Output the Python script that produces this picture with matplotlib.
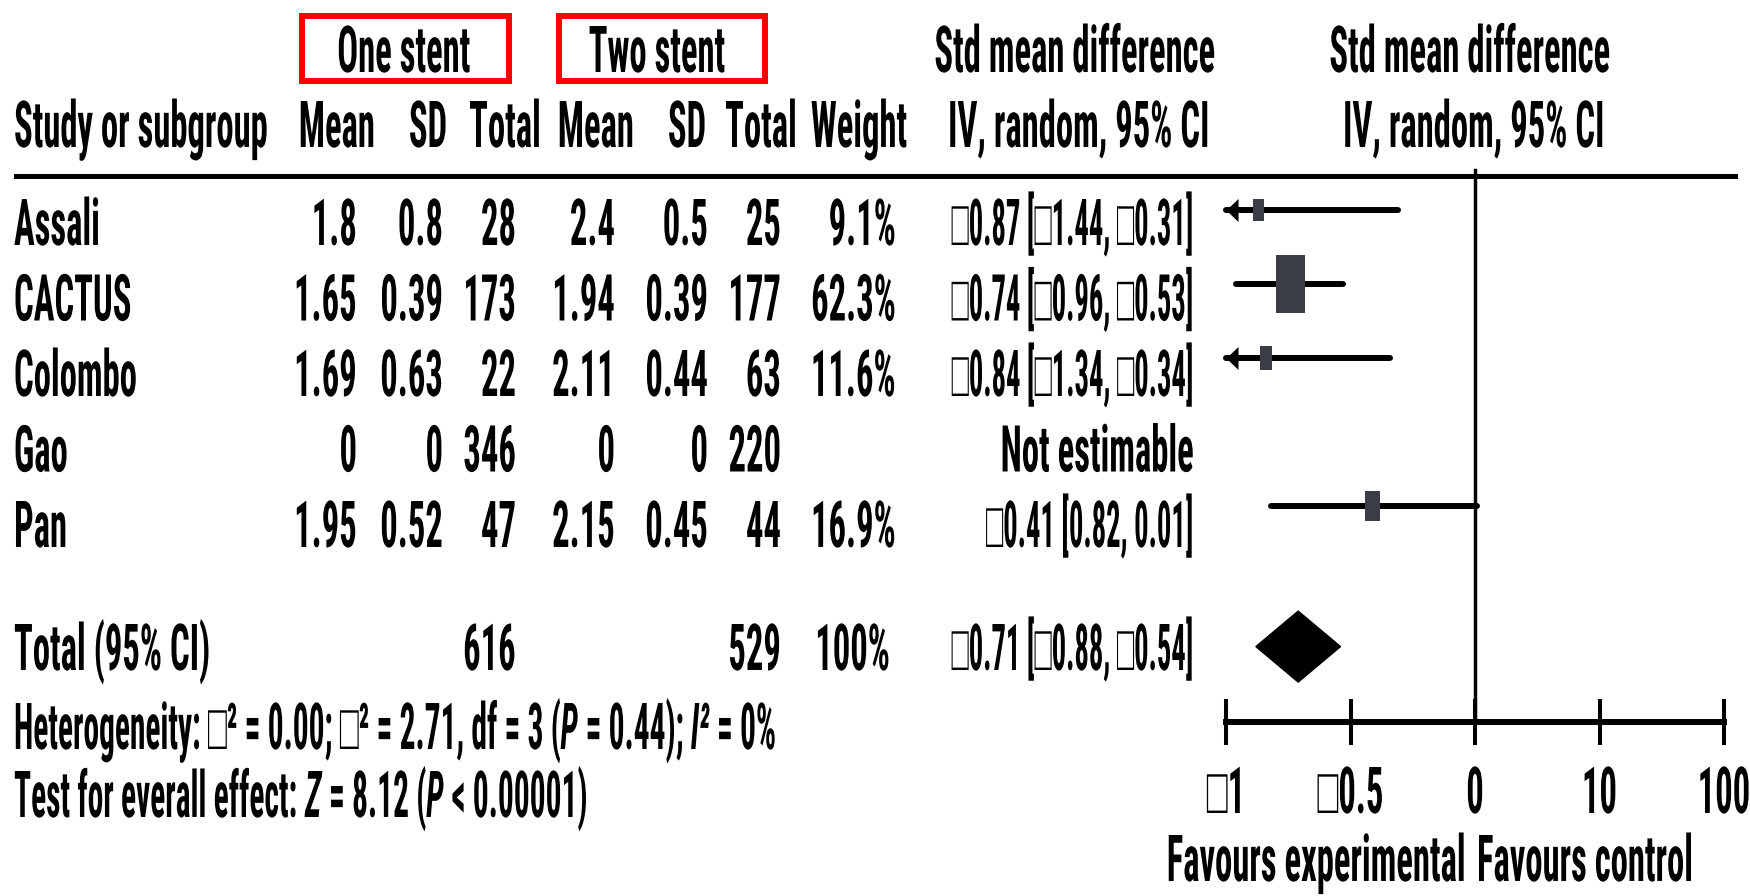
import numpy as np
import matplotlib
matplotlib.use("Agg")
import matplotlib.pyplot as plt
from matplotlib import font_manager
from matplotlib.font_manager import FontProperties
from matplotlib.patches import Rectangle, Polygon
from matplotlib.lines import Line2D
from matplotlib.path import Path
from matplotlib.textpath import TextPath
from matplotlib.transforms import Affine2D
from matplotlib.patheffects import AbstractPathEffect

# ---------------- data ----------------
studies = ["Assali", "CACTUS", "Colombo", "Gao", "Pan"]
one_mean = ["1.8", "1.65", "1.69", "0", "1.95"]
one_sd = ["0.8", "0.39", "0.63", "0", "0.52"]
one_total = ["28", "173", "22", "346", "47"]
two_mean = ["2.4", "1.94", "2.11", "0", "2.15"]
two_sd = ["0.5", "0.39", "0.44", "0", "0.45"]
two_total = ["25", "177", "63", "220", "44"]
weight_pct = [9.1, 62.3, 11.6, np.nan, 16.9]
weight_lbl = ["9.1%", "62.3%", "11.6%", "", "16.9%"]
smd = [-0.87, -0.74, -0.84, np.nan, -0.41]
ci_lo = [-1.44, -0.96, -1.34, np.nan, -0.82]
ci_hi = [-0.31, -0.53, -0.34, np.nan, 0.01]
ci_lbl = ["\u25a10.87 [\u25a11.44, \u25a10.31]",
          "\u25a10.74 [\u25a10.96, \u25a10.53]",
          "\u25a10.84 [\u25a11.34, \u25a10.34]",
          "Not estimable",
          "\u25a10.41 [0.82, 0.01]"]
total_label = "Total (95% CI)"
total_one = "616"
total_two = "529"
total_weight = "100%"
total_smd, total_lo, total_hi = -0.71, -0.88, -0.54
total_ci_lbl = "\u25a10.71 [\u25a10.88, \u25a10.54]"
axis_ticks = [-1, -0.5, 0, 0.5, 1]
axis_ticklabels = ["\u25a11", "\u25a10.5", "0", "10", "100"]

# ---------------- fonts ----------------
W, H = 1750, 896
installed = {f.name for f in font_manager.fontManager.ttflist}
prefs = ["Roboto Condensed", "Liberation Sans Narrow", "Open Sans Condensed",
         "Liberation Sans", "Roboto", "DejaVu Sans"]
MAIN = next(f for f in prefs if f in installed)
FAM = [MAIN] + [f for f in ["Liberation Sans", "DejaVu Sans"] if f != MAIN]

fig = plt.figure(figsize=(W / 100, H / 100), dpi=100)
fig.patch.set_facecolor("white")
renderer = fig.canvas.get_renderer()


def layout_w(s, size, style="normal"):
    t = fig.text(0, 0, s, fontsize=size, fontweight="bold", fontstyle=style, family=FAM)
    w = t.get_window_extent(renderer).width
    t.remove()
    return w


# font size whose widths match the reference text widths
ref_w = {"Study or subgroup": 260, "Std mean difference": 290,
         "Favours experimental": 281}
meas = sum(layout_w(s, 20) for s in ref_w)
FS = 20 * sum(ref_w.values()) / meas
cap_pt = TextPath((0, 0), "H", size=FS,
                  prop=FontProperties(family=MAIN, weight="bold")).get_extents().height
CAP_PX = 46.0
SY = CAP_PX / (cap_pt * 100 / 72)


class VStretch(AbstractPathEffect):
    """Stretch glyphs vertically around the baseline (tall condensed look)."""

    def __init__(self, sy):
        super().__init__((0, 0))
        self._sy = sy

    def draw_path(self, renderer, gc, tpath, affine, rgbFace=None):
        renderer.draw_path(gc, tpath, Affine2D().scale(1.0, self._sy) + affine, rgbFace)


def T(xpx, ypx, s, ha="left", style="normal", size=None):
    size = FS if size is None else size
    t = fig.text(xpx / W, 1 - ypx / H, s, ha=ha, va="baseline", fontsize=size,
                 fontweight="bold", fontstyle=style, family=FAM, color="black")
    t.set_path_effects([VStretch(SY * FS / size)])
    return t


def text_w(s, size):
    return layout_w(s + "|", size) - layout_w("|", size)


def rich(xpx, ypx, pieces, target_w):
    full = "".join(p[0] for p in pieces)
    size = FS * target_w / text_w(full, FS)
    acc = ""
    for s, style in pieces:
        T(xpx + text_w(acc, size), ypx, s, style=style, size=size)
        acc += s


# red group boxes
for (x0, x1) in [(302, 509), (559, 765)]:
    fig.add_artist(Rectangle((x0 / W, 1 - 81 / H), (x1 - x0) / W, (81 - 16) / H,
                             transform=fig.transFigure, fill=False,
                             edgecolor="#ff0000", lw=4.3))

# header line
fig.add_artist(Line2D([16 / W, 1735 / W], [1 - 176 / H] * 2, transform=fig.transFigure,
                      color="black", lw=3.6))

# headers
HB1, HB2 = 72, 147
T(404, HB1, "One stent", ha="center")
T(657, HB1, "Two stent", ha="center")
T(1075, HB1, "Std mean difference", ha="center")
T(1470, HB1, "Std mean difference", ha="center")
T(14, HB2, "Study or subgroup")
for xc, s in [(337, "Mean"), (428, "SD"), (505, "Total"), (596, "Mean"), (687, "SD"),
              (761, "Total"), (859, "Weight"), (1079, "IV, random, 95% CI"),
              (1474, "IV, random, 95% CI")]:
    T(xc, HB2, s, ha="center")

# CI labels are fitted to the reference width of the widest one
CI_FS = min(FS, FS * 242 / text_w(ci_lbl[0], FS))

# table rows
row_base = [245, 320.5, 396, 471.5, 547]
cols = [(one_mean, 357), (one_sd, 443), (one_total, 516), (two_mean, 615),
        (two_sd, 708), (two_total, 781), (weight_lbl, 896)]
for i, name in enumerate(studies):
    T(14, row_base[i], name)
    for vals, xr in cols:
        if vals[i]:
            T(xr, row_base[i], vals[i], ha="right")
    T(1194, row_base[i], ci_lbl[i], ha="right",
      size=FS if ci_lbl[i] == "Not estimable" else CI_FS)

TB = 670
T(14, TB, total_label)
T(516, TB, total_one, ha="right")
T(781, TB, total_two, ha="right")
T(890, TB, total_weight, ha="right")
T(1194, TB, total_ci_lbl, ha="right", size=CI_FS)

rich(14, 749, [("Heterogeneity: \u25a1\u00b2 = 0.00; \u25a1\u00b2 = 2.71, df = 3 (", "normal"),
               ("P", "italic"), (" = 0.44); ", "normal"), ("I\u00b2", "italic"),
               (" = 0%", "normal")], 763)
rich(14, 817, [("Test for everall effect: ", "normal"), ("Z", "italic"),
               (" = 8.12 (", "normal"), ("P", "italic"), (" < 0.00001)", "normal")], 574)

T(1466, 881, "Favours experimental", ha="right")
T(1477, 881, "Favours control", ha="left")

# ---------------- forest axes ----------------
AX_L, AX_R = 1226, 1724
ROW0, ROWSTEP = 210, 74
px_per_x = (AX_R - AX_L) / 2.0
ax = fig.add_axes([AX_L / W, 0, (AX_R - AX_L) / W, 1])
ax.set_xlim(-1, 1)
ax.set_ylim((H - ROW0) / ROWSTEP, -ROW0 / ROWSTEP)
ax.patch.set_alpha(0)
for s in ["left", "right", "top"]:
    ax.spines[s].set_visible(False)
AXIS_Y = 722
ax.spines["bottom"].set_position(("data", (AXIS_Y - ROW0) / ROWSTEP))
ax.spines["bottom"].set_bounds(-1, 1)
ax.spines["bottom"].set_linewidth(4.3)
ax.set_yticks([])
ax.set_xticks(axis_ticks)
ax.set_xticklabels(axis_ticklabels)
ax.tick_params(axis="x", direction="inout", length=33, width=2.9, pad=49,
               labelsize=FS, colors="black")
for lbl in ax.get_xticklabels():
    lbl.set_fontweight("bold")
    lbl.set_family(FAM)
    lbl.set_va("baseline")
    lbl.set_path_effects([VStretch(SY)])

ax.axvline(0, ymin=(H - AXIS_Y) / H, ymax=(H - 170) / H, color="black", lw=2.5, zorder=1)

arrow = Path([(0, 0), (12, 11.5), (12, -11.5), (0, 0)],
             [Path.MOVETO, Path.LINETO, Path.LINETO, Path.CLOSEPOLY])

for i in range(len(studies)):
    if np.isnan(smd[i]):
        continue
    lo = max(ci_lo[i], -1)
    ax.plot([lo, ci_hi[i]], [i, i], color="black", lw=4.3, solid_capstyle="round",
            zorder=2, clip_on=False)
    if ci_lo[i] < -1:
        ax.plot([-1], [i], marker=arrow, ms=17.3, color="black", mew=0, zorder=2,
                clip_on=False)
    hpx = 7.25 * np.sqrt(weight_pct[i])
    w = (hpx / 2) / px_per_x
    h = hpx / ROWSTEP
    ax.add_patch(Rectangle((smd[i] - w / 2, i - h / 2), w, h, facecolor="#3a3d46",
                           edgecolor="none", zorder=3, clip_on=False))

yT = len(studies) + 0.9
hh = 35.5 / ROWSTEP
ax.add_patch(Polygon([(total_lo, yT), (total_smd, yT - hh), (total_hi, yT),
                      (total_smd, yT + hh)], closed=True, facecolor="black",
                     edgecolor="black", lw=1, zorder=3, clip_on=False))

fig.savefig("out.png", dpi=100, facecolor="white")
